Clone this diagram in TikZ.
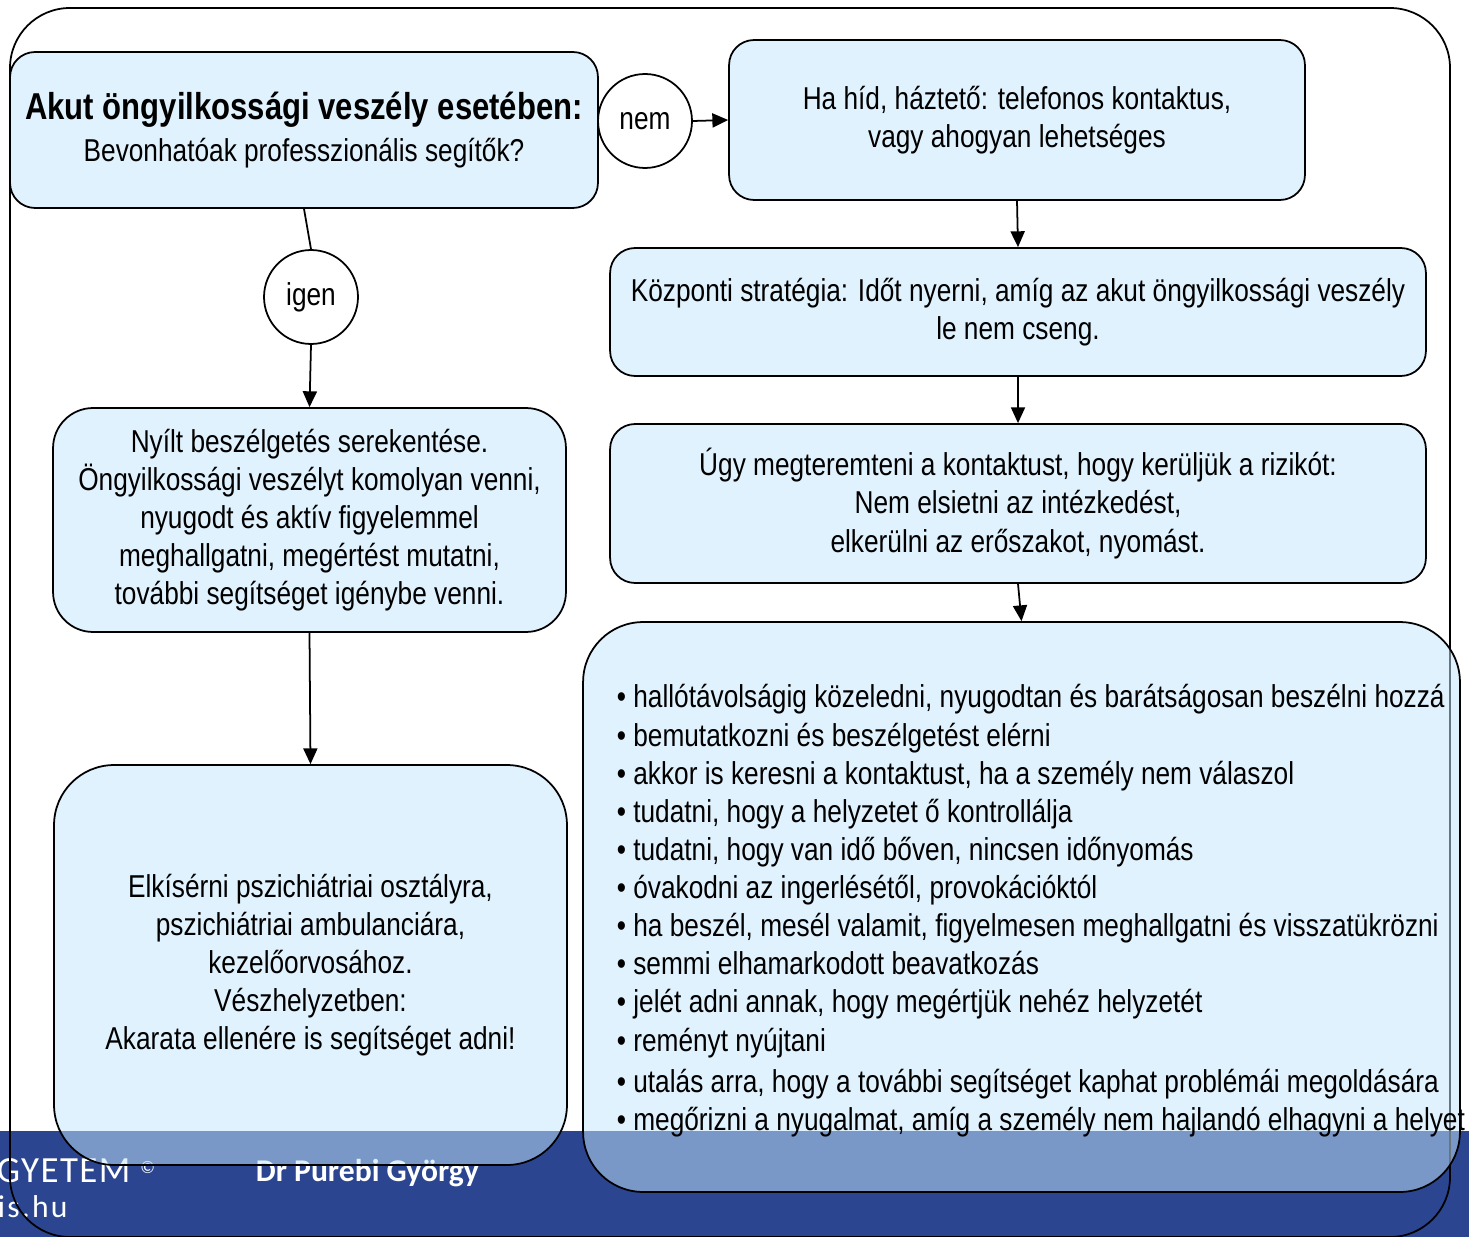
\documentclass[tikz,border=0pt]{standalone}
\usepackage{fontspec}
\setmainfont{Liberation Sans}[FakeStretch=0.83]
\newfontfamily\footfont{Carlito}
\usetikzlibrary{arrows.meta}
\definecolor{boxfill}{RGB}{196,230,251}
\definecolor{footblue}{RGB}{43,69,144}

\begin{document}
\begin{tikzpicture}[x=0.02cm, y=-0.02cm, >={Triangle[length=9pt,width=8pt]},
  font=\fontsize{18}{21.7}\selectfont, line width=1pt,
  box/.style={draw, rounded corners=0.5cm, fill=boxfill, fill opacity=0.52, text opacity=1, align=center, inner sep=2pt},
  bigbox/.style={box, rounded corners=1.2cm},
  answer/.style={draw, circle, minimum size=1.88cm, inner sep=0pt},
  foot/.style={text=white, anchor=base west, inner sep=0pt}]

\useasboundingbox (0,0) rectangle (1469,1236);

% ---- slide footer -----------------------------------------------------------
\fill[footblue] (0,1131) rectangle (1469,1240);
\node[foot, font=\footfont\fontsize{21}{24}\selectfont\addfontfeature{LetterSpace=4}] (uni) at (-4,1182)
  {GYETEM \raisebox{5pt}{\fontsize{10}{12}\selectfont ©}};
\node[foot, font=\footfont\fontsize{18}{22}\selectfont\addfontfeature{LetterSpace=7}] (web) at (-3,1217) {is.hu};
\node[foot, font=\footfont\bfseries\fontsize{18}{22}\selectfont] (author) at (255,1181) {Dr Purebi György};

% ---- frame ------------------------------------------------------------------
\draw[rounded corners=1.2cm] (10,8) rectangle (1450,1237);

% ---- left column ------------------------------------------------------------
\node[box, minimum width=11.76cm, minimum height=3.12cm] (ask) at (304,130)
  {{\bfseries\fontsize{21.3}{25}\selectfont Akut öngyilkossági veszély esetében:}\\[2pt]
   Bevonhatóak professzionális segítők?};
\node[answer] (yes) at (311,297) {igen};
\node[box, rounded corners=0.8cm, minimum width=10.26cm, minimum height=4.48cm] (talk) at (309.5,520)
  {Nyílt beszélgetés serekentése.\\
   Öngyilkossági veszélyt komolyan venni,\\
   nyugodt és aktív figyelemmel\\
   meghallgatni, megértést mutatni,\\
   további segítséget igénybe venni.};
\node[bigbox, minimum width=10.26cm, minimum height=8cm] (escort) at (310.5,965)
  {Elkísérni pszichiátriai osztályra,\\
   pszichiátriai ambulanciára,\\
   kezelőorvosához.\\
   Vészhelyzetben:\\
   Akarata ellenére is segítséget adni!};

% ---- right column -----------------------------------------------------------
\node[answer] (no) at (645,121) {nem};
\node[box, minimum width=11.52cm, minimum height=3.2cm] (roof) at (1017,120)
  {Ha híd, háztető: telefonos kontaktus,\\
   vagy ahogyan lehetséges};
\node[box, minimum width=16.32cm, minimum height=2.56cm] (time) at (1018,312)
  {Központi stratégia: Időt nyerni, amíg az akut öngyilkossági veszély\\
   le nem cseng.};
\node[box, minimum width=16.32cm, minimum height=3.18cm] (contact) at (1018,503.5)
  {Úgy megteremteni a kontaktust, hogy kerüljük a rizikót:\\
   Nem elsietni az intézkedést,\\
   elkerülni az erőszakot, nyomást.};
\node[bigbox, minimum width=17.54cm, minimum height=11.4cm] (tipsbox) at (1021.5,907) {};
\node[anchor=west, align=left, inner sep=0pt] (tips) at (616,911)
  {\textbullet\ hallótávolságig közeledni, nyugodtan és barátságosan beszélni hozzá\\
   \textbullet\ bemutatkozni és beszélgetést elérni\\
   \textbullet\ akkor is keresni a kontaktust, ha a személy nem válaszol\\
   \textbullet\ tudatni, hogy a helyzetet ő kontrollálja\\
   \textbullet\ tudatni, hogy van idő bőven, nincsen időnyomás\\
   \textbullet\ óvakodni az ingerlésétől, provokációktól\\
   \textbullet\ ha beszél, mesél valamit, figyelmesen meghallgatni és visszatükrözni\\
   \textbullet\ semmi elhamarkodott beavatkozás\\
   \textbullet\ jelét adni annak, hogy megértjük nehéz helyzetét\\
   \textbullet\ reményt nyújtani\\[2pt]
   \textbullet\ utalás arra, hogy a további segítséget kaphat problémái megoldására\\
   \textbullet\ megőrizni a nyugalmat, amíg a személy nem hajlandó elhagyni a helyet};

% ---- connectors -------------------------------------------------------------
\draw (ask.south) -- (yes.north);
\draw[->] (yes.south) -- (talk.north);
\draw[->] (talk.south) -- (escort.north);
\draw[->] (no.east) -- (roof.west);
\draw[->] (roof.south) -- (time.north);
\draw[->] (time.south) -- (contact.north);
\draw[->] (contact.south) -- (tipsbox.north);

\end{tikzpicture}
\end{document}
